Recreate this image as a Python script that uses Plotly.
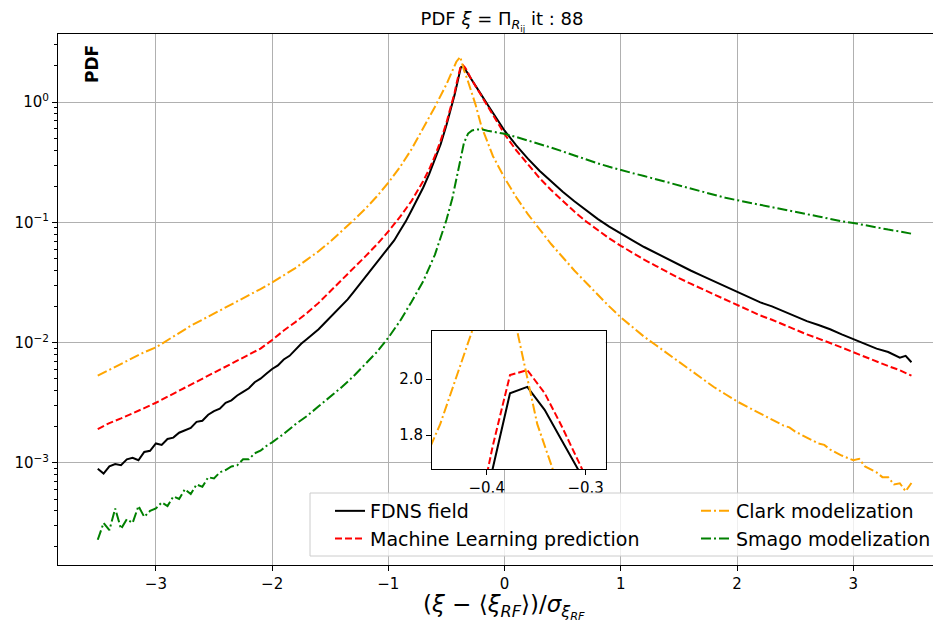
import plotly.graph_objects as go

# ---------------- data ----------------
fdns_x = [-3.50, -3.45, -3.40, -3.35, -3.30, -3.25, -3.20, -3.15, -3.10, -3.05,
          -3.00, -2.95, -2.90, -2.85, -2.80, -2.75, -2.70, -2.65, -2.60, -2.55,
          -2.50, -2.45, -2.40, -2.35, -2.30, -2.25, -2.20, -2.15, -2.10, -2.05,
          -2.00, -1.95, -1.90, -1.85, -1.80, -1.75, -1.70, -1.65, -1.60, -1.55,
          -1.50, -1.45, -1.40, -1.35, -1.30, -1.25, -1.20, -1.15, -1.10, -1.05,
          -1.00, -0.95, -0.90, -0.85, -0.80, -0.75, -0.70, -0.65, -0.60, -0.55,
          -0.50, -0.45, -0.43, -0.4115, -0.394, -0.3765, -0.359, -0.3415, -0.324, -0.3065,
          -0.289, -0.25, -0.20, -0.15, -0.10, -0.05, 0.00, 0.10, 0.20, 0.30,
          0.40, 0.50, 0.60, 0.70, 0.80, 0.90, 1.00, 1.10, 1.20, 1.30,
          1.40, 1.50, 1.60, 1.70, 1.80, 1.90, 2.00, 2.10, 2.20, 2.30,
          2.40, 2.50, 2.60, 2.70, 2.80, 2.90, 3.00, 3.10, 3.20, 3.30,
          3.40, 3.45, 3.50]
fdns_pdf = [8.91e-4, 8.13e-4, 9.33e-4, 9.77e-4, 9.55e-4, 1.07e-3, 1.10e-3, 1.05e-3, 1.23e-3, 1.26e-3,
            1.45e-3, 1.41e-3, 1.58e-3, 1.62e-3, 1.78e-3, 1.86e-3, 1.95e-3, 2.19e-3, 2.24e-3, 2.51e-3,
            2.69e-3, 2.82e-3, 3.16e-3, 3.31e-3, 3.63e-3, 3.89e-3, 4.17e-3, 4.68e-3, 5.01e-3, 5.50e-3,
            6.03e-3, 6.46e-3, 7.24e-3, 7.76e-3, 8.71e-3, 9.77e-3, 1.07e-2, 1.17e-2, 1.29e-2, 1.45e-2,
            1.62e-2, 1.82e-2, 2.04e-2, 2.29e-2, 2.63e-2, 3.02e-2, 3.47e-2, 3.98e-2, 4.57e-2, 5.25e-2,
            6.03e-2, 7.08e-2, 8.51e-2, 0.102, 0.126, 0.155, 0.195, 0.251, 0.331, 0.447,
            0.646, 0.955, 1.15, 1.38, 1.68, 1.949, 1.972, 1.89, 1.78, 1.665,
            1.56, 1.36, 1.15, 0.966, 0.813, 0.684, 0.579, 0.437, 0.339, 0.269,
            0.219, 0.180, 0.150, 0.126, 0.107, 0.0923, 0.0804, 0.0708, 0.0624, 0.0556,
            0.0495, 0.0442, 0.0398, 0.0359, 0.0324, 0.0292, 0.0263, 0.0237, 0.0216, 0.0200,
            0.0182, 0.0166, 0.0151, 0.0140, 0.0129, 0.0117, 0.0107, 0.00977, 0.00891, 0.00835,
            0.00750, 0.00775, 0.00686]

ml_x = [-3.50, -3.40, -3.30, -3.20, -3.10, -3.00, -2.90, -2.80, -2.70, -2.60,
        -2.50, -2.40, -2.30, -2.20, -2.10, -2.00, -1.90, -1.80, -1.70, -1.60,
        -1.50, -1.40, -1.30, -1.20, -1.10, -1.00, -0.90, -0.80, -0.70, -0.65,
        -0.60, -0.55, -0.50, -0.45, -0.43, -0.4115, -0.394, -0.3765, -0.359, -0.3415,
        -0.324, -0.3065, -0.289, -0.25, -0.20, -0.10, 0.00, 0.10, 0.20, 0.30,
        0.40, 0.50, 0.60, 0.70, 0.80, 0.90, 1.00, 1.10, 1.20, 1.30,
        1.40, 1.50, 1.60, 1.70, 1.80, 1.90, 2.00, 2.10, 2.20, 2.30,
        2.40, 2.50, 2.60, 2.70, 2.80, 2.90, 3.00, 3.10, 3.20, 3.30,
        3.40, 3.50]
ml_pdf = [1.91e-3, 2.14e-3, 2.34e-3, 2.57e-3, 2.85e-3, 3.16e-3, 3.55e-3, 3.98e-3, 4.42e-3, 5.01e-3,
          5.62e-3, 6.31e-3, 7.08e-3, 7.94e-3, 8.91e-3, 1.05e-2, 1.26e-2, 1.48e-2, 1.76e-2, 2.14e-2,
          2.66e-2, 3.31e-2, 4.17e-2, 5.19e-2, 6.53e-2, 8.41e-2, 0.111, 0.151, 0.221, 0.275,
          0.355, 0.479, 0.676, 1.00, 1.20, 1.46, 1.76, 2.014, 2.032, 1.95,
          1.83, 1.69, 1.57, 1.36, 1.135, 0.785, 0.541, 0.398, 0.302, 0.234,
          0.186, 0.150, 0.123, 0.102, 0.0861, 0.0736, 0.0638, 0.0558, 0.0490, 0.0435,
          0.0386, 0.0344, 0.0309, 0.0279, 0.0251, 0.0226, 0.0204, 0.0184, 0.0168, 0.0155,
          0.0141, 0.0129, 0.0117, 0.0108, 0.0100, 0.00912, 0.00832, 0.00759, 0.00692, 0.00638,
          0.00589, 0.00531]

clark_x = [-3.50, -3.40, -3.30, -3.20, -3.10, -3.00, -2.90, -2.80, -2.70, -2.60,
           -2.50, -2.40, -2.30, -2.20, -2.10, -2.00, -1.90, -1.80, -1.70, -1.60,
           -1.50, -1.40, -1.30, -1.20, -1.10, -1.00, -0.90, -0.80, -0.70, -0.60,
           -0.50, -0.447, -0.415, -0.382, -0.349, -0.316, -0.283, -0.25, -0.20, -0.15,
           -0.10, 0.00, 0.10, 0.20, 0.30, 0.40, 0.50, 0.60, 0.70, 0.80,
           0.90, 1.00, 1.10, 1.20, 1.30, 1.40, 1.50, 1.60, 1.70, 1.80,
           1.90, 2.00, 2.10, 2.20, 2.30, 2.40, 2.45, 2.50, 2.60, 2.70,
           2.75, 2.80, 2.90, 3.00, 3.05, 3.10, 3.20, 3.25, 3.30, 3.35,
           3.40, 3.45, 3.50]
clark_pdf = [5.31e-3, 5.96e-3, 6.61e-3, 7.41e-3, 8.32e-3, 9.12e-3, 1.05e-2, 1.20e-2, 1.38e-2, 1.55e-2,
             1.74e-2, 1.95e-2, 2.19e-2, 2.45e-2, 2.79e-2, 3.16e-2, 3.63e-2, 4.17e-2, 4.90e-2, 5.75e-2,
             6.92e-2, 8.41e-2, 0.104, 0.129, 0.164, 0.214, 0.288, 0.407, 0.603, 0.912,
             1.41, 1.839, 2.169, 2.38, 1.84, 1.50, 1.20, 0.955, 0.631, 0.468,
             0.355, 0.234, 0.162, 0.117, 0.0871, 0.0661, 0.0513, 0.0398, 0.0316, 0.0251,
             0.0200, 0.0162, 0.0135, 0.0112, 0.00955, 0.00813, 0.00692, 0.00582, 0.00501, 0.00427,
             0.00372, 0.00324, 0.00288, 0.00257, 0.00229, 0.00204, 0.00197, 0.00182, 0.00162, 0.00145,
             0.00141, 0.00129, 0.00115, 0.00105, 0.00108, 9.33e-4, 8.32e-4, 7.6e-4, 7.59e-4, 6.6e-4,
             6.76e-4, 5.8e-4, 6.8e-4]

smago_x = [-3.50, -3.45, -3.40, -3.35, -3.30, -3.25, -3.20, -3.15, -3.10, -3.05,
           -3.00, -2.95, -2.90, -2.85, -2.80, -2.75, -2.70, -2.65, -2.60, -2.55,
           -2.50, -2.45, -2.40, -2.35, -2.30, -2.25, -2.20, -2.15, -2.10, -2.05,
           -2.00, -1.90, -1.80, -1.70, -1.60, -1.50, -1.40, -1.30, -1.20, -1.10,
           -1.00, -0.90, -0.80, -0.70, -0.60, -0.50, -0.45, -0.40, -0.383, -0.35,
           -0.314, -0.28, -0.233, -0.19, -0.147, -0.10, 0.00, 0.10, 0.20, 0.30,
           0.40, 0.50, 0.60, 0.70, 0.80, 0.90, 1.00, 1.10, 1.20, 1.30,
           1.40, 1.50, 1.60, 1.70, 1.80, 1.90, 2.00, 2.10, 2.20, 2.30,
           2.40, 2.50, 2.60, 2.70, 2.80, 2.90, 3.00, 3.10, 3.20, 3.30,
           3.40, 3.50]
smago_pdf = [2.29e-4, 3.16e-4, 2.75e-4, 4.17e-4, 2.82e-4, 3.39e-4, 3.16e-4, 4.37e-4, 3.55e-4, 3.98e-4,
             4.17e-4, 4.68e-4, 4.37e-4, 5.25e-4, 5.01e-4, 6.03e-4, 5.50e-4, 6.61e-4, 6.31e-4, 7.59e-4,
             7.41e-4, 8.32e-4, 8.71e-4, 9.33e-4, 9.55e-4, 1.07e-3, 1.07e-3, 1.20e-3, 1.26e-3, 1.38e-3,
             1.48e-3, 1.74e-3, 2.09e-3, 2.45e-3, 2.95e-3, 3.55e-3, 4.27e-3, 5.25e-3, 6.61e-3, 8.32e-3,
             1.10e-2, 1.51e-2, 2.19e-2, 3.24e-2, 5.37e-2, 0.105, 0.158, 0.275, 0.329, 0.457,
             0.548, 0.582, 0.592, 0.591, 0.579, 0.569, 0.545, 0.513, 0.481, 0.450,
             0.419, 0.389, 0.359, 0.333, 0.310, 0.290, 0.272, 0.257, 0.243, 0.229,
             0.216, 0.204, 0.191, 0.179, 0.170, 0.160, 0.153, 0.146, 0.140, 0.133,
             0.127, 0.122, 0.117, 0.112, 0.107, 0.102, 0.0989, 0.0944, 0.0912, 0.0871,
             0.0841, 0.0805]

x_ticks = [-3, -2, -1, 0, 1, 2, 3]
y_ticks = [1e-3, 1e-2, 1e-1, 1e0]
y_tick_text = ["10<sup>−3</sup>", "10<sup>−2</sup>", "10<sup>−1</sup>", "10<sup>0</sup>"]
inset_x_ticks = [-0.4, -0.3]
inset_y_ticks = [1.8, 2.0]

# ---------------- styling ----------------
FONT = "DejaVu Sans"
series = [
    ("FDNS field", fdns_x, fdns_pdf, "black", "solid", "legend", 1),
    ("Machine Learning prediction", ml_x, ml_pdf, "red", "7px,3px", "legend", 2),
    ("Clark modelization", clark_x, clark_pdf, "orange", "10px,3px,2px,3px", "legend2", 3),
    ("Smago modelization", smago_x, smago_pdf, "green", "10px,3px,2px,3px", "legend2", 4),
]

fig = go.Figure()
for name, xs, ys, col, dash, leg, rank in series:
    fig.add_trace(go.Scatter(x=xs, y=ys, mode="lines", name=name,
                             line=dict(color=col, width=2, dash=dash),
                             legend=leg, legendrank=rank,
                             xaxis="x", yaxis="y"))
# inset copies
for name, xs, ys, col, dash, leg, rank in series[:3]:
    fig.add_trace(go.Scatter(x=xs, y=ys, mode="lines", name=name, showlegend=False,
                             line=dict(color=col, width=2, dash=dash),
                             xaxis="x2", yaxis="y2"))

# page body has an 8px margin: the figure is drawn 8px right/down of the window origin
OFF = 8
W, H = 941, 626
L, R, T, B = 50, 0, 26, 69
pw, ph = W - L - R, H - T - B


def px_x(p):  # window pixel -> paper fraction
    return (p - OFF - L) / pw


def px_y(p):
    return (H - B - (p - OFF)) / ph


minor_vals = [m * 10 ** e for e in range(-4, 1) for m in range(2, 10)]

fig.update_layout(
    width=W, height=H,
    margin=dict(l=L, r=R, t=T, b=B),
    paper_bgcolor="white", plot_bgcolor="white",
    font=dict(family=FONT, size=15, color="black"),
    title=dict(text="PDF <i>ξ</i> = Π<sub><i>R</i><sub>ij</sub></sub> it : 88",
               x=px_x(502), xref="paper", xanchor="center",
               y=1 - (19 - OFF) / H, yref="container", yanchor="middle",
               font=dict(size=18, family=FONT, color="black")),
    xaxis=dict(range=[-3.842, 3.823], tickvals=x_ticks, ticks="outside", ticklen=5,
               tickwidth=1, tickcolor="black", showgrid=True, gridcolor="#b0b0b0",
               gridwidth=1, zeroline=False, showline=True, linecolor="black",
               linewidth=1, mirror=True, tickfont=dict(size=15), domain=[0, 1]),
    yaxis=dict(type="log", range=[-3.85, 0.567], tickvals=y_ticks, ticktext=y_tick_text,
               ticks="outside", ticklen=5, tickwidth=1, tickcolor="black",
               showgrid=True, gridcolor="#b0b0b0", gridwidth=1, zeroline=False,
               showline=True, linecolor="black", linewidth=1, mirror=False,
               tickfont=dict(size=15),
               minor=dict(tickvals=minor_vals, ticks="outside", ticklen=3,
                          tickcolor="black", showgrid=False)),
    xaxis2=dict(domain=[px_x(432), px_x(605.7)], anchor="y2",
                range=[-0.4553, -0.2798], tickvals=inset_x_ticks,
                ticktext=["−0.4", "−0.3"], ticks="outside", ticklen=5,
                tickcolor="black", showgrid=False, zeroline=False, showline=True,
                linecolor="black", linewidth=1, mirror=True, tickfont=dict(size=15)),
    yaxis2=dict(domain=[px_y(469), px_y(330.7)], anchor="x2",
                range=[1.679, 2.1725], tickvals=inset_y_ticks, ticktext=["1.8", "2.0"],
                ticks="outside", ticklen=5, tickcolor="black", showgrid=False,
                zeroline=False, showline=True, linecolor="black", linewidth=1,
                mirror=True, tickfont=dict(size=15)),
    legend=dict(x=px_x(330), y=px_y(492), xanchor="left", yanchor="top",
                bgcolor="rgba(0,0,0,0)", borderwidth=0,
                font=dict(size=19, family=FONT, color="black"), tracegroupgap=0),
    legend2=dict(x=px_x(696), y=px_y(492), xanchor="left", yanchor="top",
                 bgcolor="rgba(0,0,0,0)", borderwidth=0,
                 font=dict(size=19, family=FONT, color="black"), tracegroupgap=0),
    showlegend=True,
    shapes=[
        # inset face (semi-transparent so the main grid shows through)
        dict(type="rect", xref="paper", yref="paper",
             x0=px_x(432), x1=px_x(605.7), y0=px_y(469), y1=px_y(330.7),
             fillcolor="rgba(0,0,0,0.045)", line=dict(width=0), layer="below"),
        # legend frame
        dict(type="rect", xref="paper", yref="paper",
             x0=px_x(310), x1=px_x(937), y0=px_y(556), y1=px_y(493),
             fillcolor="rgba(255,255,255,0.8)", line=dict(color="#cccccc", width=1),
             layer="above"),
    ],
    annotations=[
        dict(text="<b>PDF</b>", textangle=-90, x=px_x(92), y=px_y(64),
             xref="paper", yref="paper", showarrow=False,
             xanchor="center", yanchor="middle",
             font=dict(size=17, family=FONT, color="black")),
        dict(text="(<i>ξ</i> − ⟨<i>ξ</i><sub><i>RF</i></sub>⟩)/<i>σ</i><sub><i>ξ</i><sub><i>RF</i></sub></sub>",
             x=px_x(504), y=px_y(607), xref="paper", yref="paper", showarrow=False,
             xanchor="center", yanchor="middle",
             font=dict(size=23, family=FONT, color="black")),
    ],
)

fig.write_html("out.html")
